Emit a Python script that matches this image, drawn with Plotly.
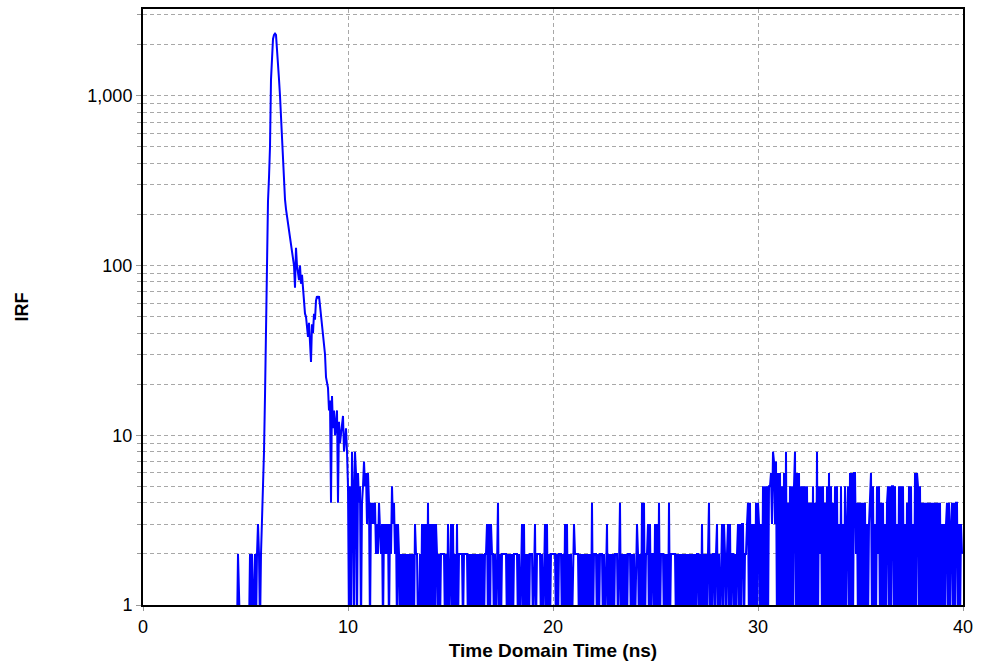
import numpy as np
import plotly.graph_objects as go

# ---- data (counts per channel) ----
n_channels = 820
time_span_ns = 40.0

# channels 0..119 (pre-peak baseline), one digit per channel ("1" = at/below the axis floor)
baseline_counts = ("1111111111" "1111111111" "1111111111" "1111111111" "1111111111"
                   "1111111111" "1111111111" "1111111111" "1111111111"
                   "1111121111" "1111111212" "1121232123")

# channels 120..205 (rise, peak and decay)
peak_counts = [4, 8, 17, 48, 144, 240, 330, 500, 1245, 1620,
               2160, 2280, 2320, 2280, 1750, 1400, 1250, 1000, 750, 500,
               410, 300, 245, 215, 195, 170, 155, 142, 133, 120,
               110, 100, 74, 127, 100, 90, 82, 100, 78, 88,
               70, 58, 52, 50, 45, 38, 46, 32, 27, 45,
               40, 52, 48, 62, 66, 64, 66, 58, 50, 46,
               38, 34, 30, 22, 20, 19, 14, 16, 4, 17,
               11, 14, 10, 12, 14, 4, 12, 9, 10, 12,
               13, 8, 10, 11, 8, 5]

# channels 206..256 (late decay tail)
tail_counts = ("1518518616" "4514575636" "4143434232" "4323132323" "1325342313" "2")

# channels 257..596 (background)
background_counts = ("1212121212" "1212132211" "2131313141" "3131313212" "1222212131"
                     "2313121312" "2221222212" "1212121212" "1212122313" "1322121241"
                     "2122222121" "2121222212" "1231312121" "2221231222" "2121231312"
                     "1222221212" "2212131312" "1212322221" "2121212121" "2141222121"
                     "2221212312" "1212122212" "4121212122" "2121212321" "2141412231"
                     "3122131314" "1222121214" "1222221212" "1212121212" "1212121221"
                     "2131212124" "1212212312" "1231321231" "3122121231")

# channels 597..819 (late background bump)
late_counts = ("3133122341" "4131314143" "1315151515" "5638737161" "6151618141"
               "5151581616" "1515151514" "1415141815" "2515141516" "1514151513"
               "1513151351" "6161662414" "1414141313" "5615131525" "1414131451"
               "5155151315" "1515131415" "1513161651" "5141414141" "4141414141"
               "4131313414" "1341414413" "132")

y_tick_vals = [1, 10, 100, 1000]
y_tick_text = ["1", "10", "100", "1,000"]
y_minor_vals = [2, 3, 4, 5, 6, 7, 8, 9, 20, 30, 40, 50, 60, 70, 80, 90,
                200, 300, 400, 500, 600, 700, 800, 900, 2000, 3000]
x_tick_vals = [0, 10, 20, 30, 40]

# ---- assemble ----
counts = ([int(c) for c in baseline_counts] + list(peak_counts)
          + [int(c) for c in tail_counts] + [int(c) for c in background_counts]
          + [int(c) for c in late_counts])
counts = counts[:n_channels]
t = np.arange(len(counts)) * (time_span_ns / n_channels)
# channels at the axis floor are drawn just beneath it (clipped), as in the original plot
plot_y = [c if c > 1 else 0.7 for c in counts]

grid_color = "#a8a8a8"
grid_dash = "4px,3px"

fig = go.Figure()
fig.add_trace(go.Scatter(x=t, y=plot_y, mode="lines",
                         line=dict(color="#0000ff", width=2),
                         hoverinfo="skip", showlegend=False))

fig.update_layout(
    width=982, height=667,
    margin=dict(l=143, r=19, t=7, b=62),
    plot_bgcolor="white", paper_bgcolor="white",
    font=dict(family="Liberation Sans, Arial, sans-serif", color="black"),
    showlegend=False,
)

fig.update_xaxes(
    range=[0, 40], tickmode="array", tickvals=x_tick_vals,
    showgrid=True, gridcolor=grid_color, griddash=grid_dash, gridwidth=1,
    showline=True, linecolor="black", linewidth=2, mirror=True,
    ticks="outside", ticklen=4, tickcolor="#999999",
    tickfont=dict(size=18), zeroline=False,
    title=dict(text="<b>Time Domain Time (ns)</b>", font=dict(size=19), standoff=8),
)

fig.update_yaxes(
    type="log", range=[0, 3.511],
    tickmode="array", tickvals=y_tick_vals, ticktext=y_tick_text,
    showgrid=True, gridcolor=grid_color, griddash=grid_dash, gridwidth=1,
    minor=dict(tickmode="array", tickvals=y_minor_vals, showgrid=True,
               gridcolor=grid_color, griddash=grid_dash, gridwidth=1,
               ticks="outside", ticklen=4, tickcolor="#999999"),
    showline=True, linecolor="black", linewidth=2, mirror=True,
    ticks="outside", ticklen=5, tickcolor="#999999",
    tickfont=dict(size=18), zeroline=False,
    title=dict(text="<b>IRF</b>", font=dict(size=18), standoff=54),
)

fig.write_html("out.html")
